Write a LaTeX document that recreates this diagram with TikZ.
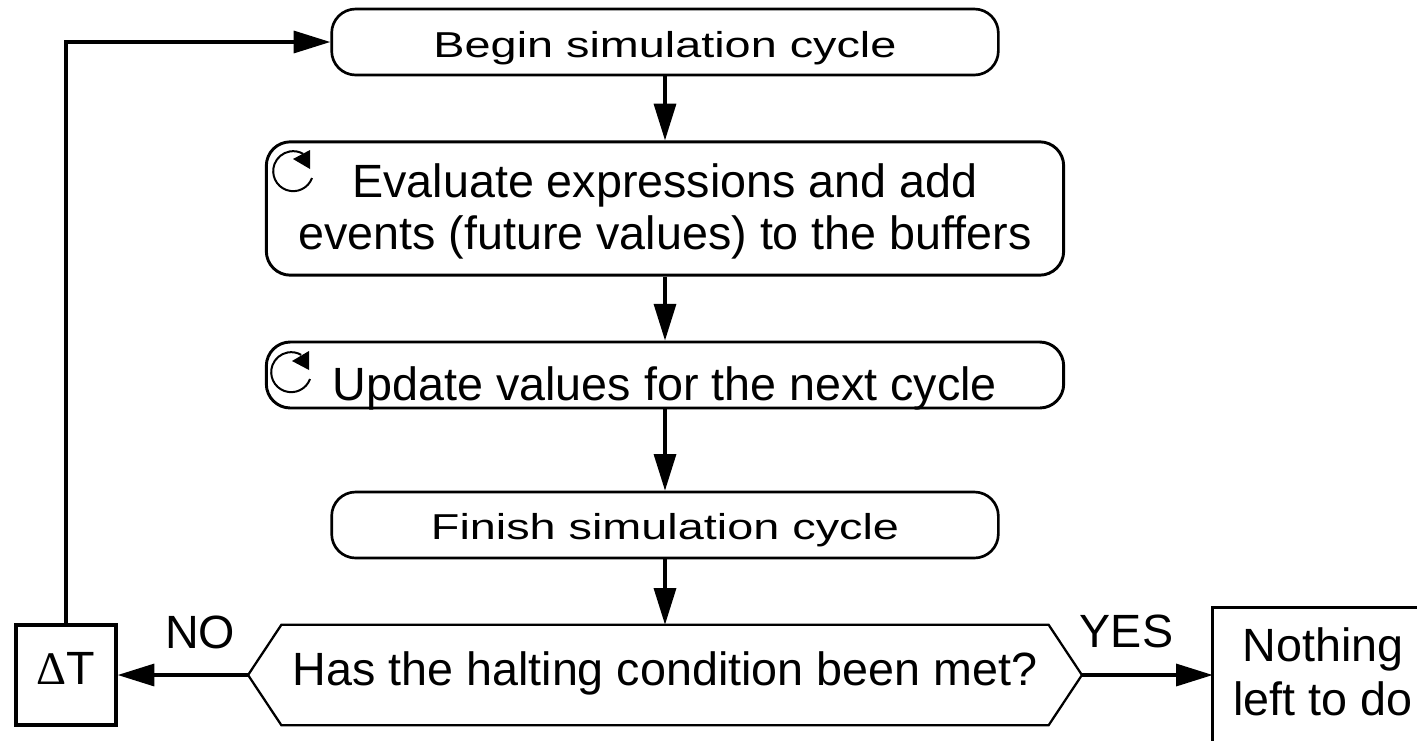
\documentclass[tikz,border=0pt]{standalone}
\usepackage{fontspec}
\setmainfont{Liberation Sans}
\newfontfamily\widefont[FakeStretch=1.3]{Liberation Sans}
\newfontfamily\symfont{Liberation Serif}
\newcommand\bl[2]{\raisebox{-#1pt}[0pt][0pt]{#2}}
\newcommand\tl[1]{\rule[-12pt]{0pt}{\dimexpr #1pt+12pt\relax}}
\newcommand\dl{\rule[-12pt]{0pt}{12pt}}
\usetikzlibrary{arrows.meta}
\tikzset{
  x=0.75pt,y=-0.75pt,
  flowbox/.style={draw=black,line width=2.2pt,rounded corners=18pt,inner sep=0pt,align=center,font=\fontsize{35}{39}\selectfont},
  smallbox/.style={flowbox,line width=2pt,font=\widefont\fontsize{27}{32}\selectfont},
  plainbox/.style={inner sep=0pt,align=center,font=\fontsize{35}{40.5}\selectfont},
  lab/.style={inner sep=0pt,anchor=base,font=\fontsize{35}{38}\selectfont},
  conn/.style={line width=2.5pt,-{Triangle[length=27.5pt,width=16.5pt]}},
  cyc/.style={line width=1.5pt},
}
\begin{document}
\begin{tikzpicture}
\useasboundingbox (0,0) rectangle (1417,740);
\clip (0,0) rectangle (1417,740);
\node[smallbox,minimum width=500pt,minimum height=49.5pt] (begin) at (665,42) {\bl{11.25}{Begin simulation cycle}};
\node[flowbox,minimum width=598pt,minimum height=100pt] (eval) at (665,208.5) {\tl{35.2}Evaluate expressions and add\\\dl events (future values) to the buffers};
\node[flowbox,minimum width=598pt,minimum height=49.5pt] (update) at (665,375) {\bl{18.75}{Update values for the next cycle}};
\node[smallbox,minimum width=500pt,minimum height=49.5pt] (finish) at (665,525) {\bl{10.5}{Finish simulation cycle}};
\node[plainbox,minimum width=625pt,minimum height=75pt] (halt) at (665,675) {\bl{7.5}{Has the halting condition been met?}};
\draw[line width=1.7pt,line join=miter]
  (halt.west) -- ([xshift=25pt]halt.north west) -- ([xshift=-25pt]halt.north east) -- (halt.east)
  -- ([xshift=-25pt]halt.south east) -- ([xshift=25pt]halt.south west) -- cycle;
\node[plainbox,draw=black,line width=2.5pt,minimum width=75pt,minimum height=75pt] (dt) at (66,675) {\bl{6.75}{{\symfont Δ}T}};
\node[plainbox,minimum width=165pt,minimum height=100.5pt] (none) at (1323,675) {\tl{31.5}Nothing\\\dl left to do};
\draw[line width=2.5pt] (none.south west) -- (none.north west) -- (none.north east);
\coordinate (corner) at (dt.north |- begin.west);
\draw[conn] (begin) -- (eval);
\draw[conn] (eval) -- (update);
\draw[conn] (update) -- (finish);
\draw[conn] (finish) -- (halt);
\draw[conn] (halt.west) -- (dt.east);
\draw[conn] (halt.east) -- (none.west);
\draw[conn] (dt.north) -- (corner) -- (begin.west);
\node[lab] (no) at (200,648) {NO};
\node[lab] (yes) at (1126.5,647) {YES};
\draw[cyc] (312,178) arc[start angle=20,end angle=300,radius=15pt,x radius=15pt,y radius=-15pt];
\fill (310,150) -- (310,169) -- (293,159) -- cycle;
\draw[cyc] (310,379) arc[start angle=20,end angle=300,radius=15pt,x radius=15pt,y radius=-15pt];
\fill (309,351) -- (309,370) -- (292,361) -- cycle;
\end{tikzpicture}
\end{document}
